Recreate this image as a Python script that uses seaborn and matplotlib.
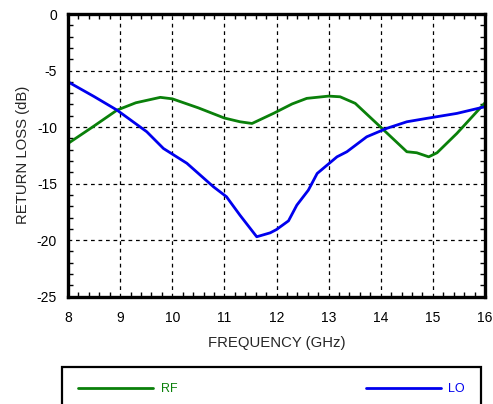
import numpy as np
import seaborn as sns
import matplotlib.pyplot as plt
from matplotlib.ticker import MultipleLocator

# RF return loss
rf_freq = [8.0, 8.5, 8.94, 9.3, 9.77, 10.0, 10.5, 11.0, 11.3, 11.53, 11.94, 12.3, 12.58,
           13.0, 13.22, 13.51, 13.99, 14.5, 14.69, 14.92, 15.08, 15.46, 16.0]
rf_loss = [-11.45, -9.9, -8.5, -7.85, -7.37, -7.5, -8.3, -9.2, -9.53, -9.68, -8.79, -7.95, -7.46,
           -7.26, -7.32, -7.9, -9.97, -12.18, -12.27, -12.63, -12.27, -10.56, -7.85]

# LO return loss
lo_freq = [8.0, 8.5, 8.94, 9.51, 9.83, 10.28, 10.79, 11.04, 11.3, 11.62, 11.88, 12.0, 12.23,
           12.39, 12.61, 12.78, 13.16, 13.35, 13.73, 14.11, 14.5, 14.88, 15.46, 16.0]
lo_loss = [-6.0, -7.3, -8.5, -10.41, -11.89, -13.2, -15.28, -16.16, -17.8, -19.7, -19.35, -19.06, -18.29,
           -16.9, -15.58, -14.1, -12.63, -12.18, -10.86, -10.12, -9.53, -9.23, -8.79, -8.2]

sns.set_style("ticks")
plt.rcParams['font.family'] = ['Liberation Sans', 'DejaVu Sans']
plt.rcParams['axes.unicode_minus'] = False

fig = plt.figure(figsize=(4.93, 4.04), dpi=100)
ax = fig.add_axes([0.138, 0.2656, 0.8458, 0.6997])

sns.lineplot(x=rf_freq, y=rf_loss, ax=ax, color='#0a800a', linewidth=2.0, label='RF')
sns.lineplot(x=lo_freq, y=lo_loss, ax=ax, color='#0000ee', linewidth=2.0, label='LO')

ax.set_xlim(8, 16)
ax.set_ylim(-25, 0)
ax.xaxis.set_major_locator(MultipleLocator(1))
ax.xaxis.set_minor_locator(MultipleLocator(0.2))
ax.yaxis.set_major_locator(MultipleLocator(5))
ax.yaxis.set_minor_locator(MultipleLocator(1))

ax.grid(True, which='major', color='black', linestyle=(0, (3, 3)), linewidth=0.9)
for s in ax.spines.values():
    s.set_visible(True)
    s.set_linewidth(2.4)
    s.set_color('black')

ax.tick_params(which='both', direction='in', top=True, right=True, colors='black')
ax.tick_params(which='major', length=0, labelsize=10, pad=10)
ax.tick_params(which='minor', length=3.5, width=1.0)
ax.tick_params(axis='y', which='major', pad=8)

ax.set_xlabel('FREQUENCY (GHz)', fontsize=10.7, labelpad=8)
ax.set_ylabel('RETURN LOSS (dB)', fontsize=10.7, labelpad=5)

leg_top = 1 - 367 / 404
leg = ax.legend(loc='upper left', bbox_to_anchor=(62 / 493, leg_top - 0.1, 419 / 493, 0.1),
                bbox_transform=fig.transFigure, ncol=2, mode='expand', frameon=True,
                fancybox=False, edgecolor='black', fontsize=9, handlelength=6.0,
                handletextpad=0.6, borderpad=1.3, borderaxespad=0, labelcolor='linecolor')
leg.get_frame().set_linewidth(1.6)
leg.get_frame().set_alpha(1)

fig.savefig('out.png', dpi=100)
